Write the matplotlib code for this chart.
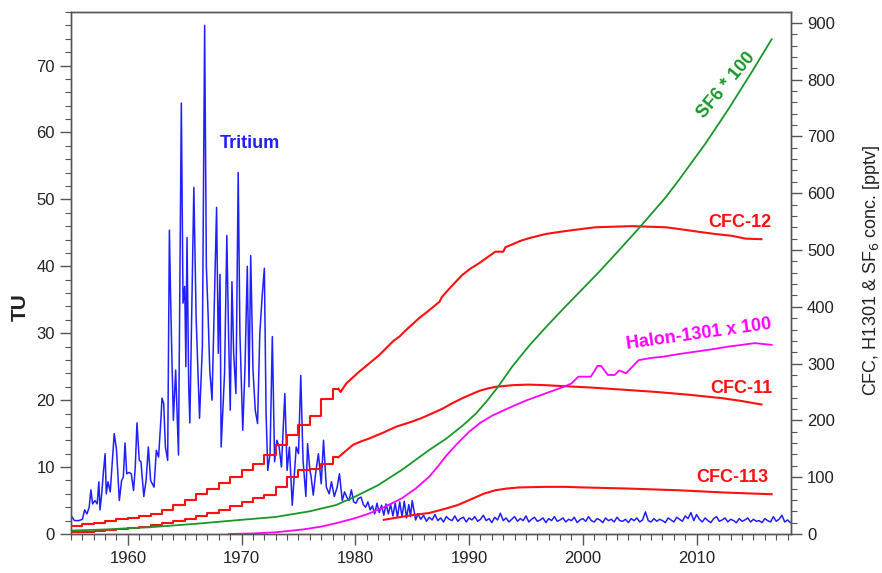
import numpy as np
import matplotlib.pyplot as plt
from matplotlib.ticker import MultipleLocator

plt.rcParams['font.family'] = ['Liberation Sans', 'DejaVu Sans']

# tritium in precipitation [TU]
tritium_years = [
    1955.0, 1955.3, 1955.7, 1956.0, 1956.2, 1956.4, 1956.6, 1956.75, 1956.9, 1957.1,
    1957.3, 1957.45, 1957.55, 1957.7, 1957.85, 1958.0, 1958.1, 1958.25, 1958.45, 1958.6,
    1958.8, 1959.0, 1959.25, 1959.45, 1959.6, 1959.75, 1959.9, 1960.1, 1960.3, 1960.5,
    1960.65, 1960.8, 1961.0, 1961.15, 1961.4, 1961.6, 1961.8, 1962.0, 1962.3, 1962.5,
    1962.7, 1962.9, 1963.0, 1963.15, 1963.3, 1963.5, 1963.65, 1963.75, 1963.85, 1964.0,
    1964.2, 1964.45, 1964.7, 1964.85, 1965.0, 1965.1, 1965.2, 1965.35, 1965.45, 1965.8,
    1966.0, 1966.15, 1966.3, 1966.55, 1966.75, 1966.9, 1967.05, 1967.2, 1967.4, 1967.8,
    1967.95, 1968.1, 1968.2, 1968.5, 1968.7, 1968.85, 1969.0, 1969.15, 1969.3, 1969.5,
    1969.7, 1969.85, 1970.1, 1970.3, 1970.5, 1970.65, 1970.8, 1971.0, 1971.2, 1971.4,
    1971.6, 1971.8, 1972.0, 1972.15, 1972.3, 1972.5, 1972.7, 1972.9, 1973.1, 1973.3,
    1973.5, 1973.8, 1974.0, 1974.2, 1974.45, 1974.6, 1974.8, 1975.0, 1975.2, 1975.4,
    1975.65, 1975.8, 1976.0, 1976.1, 1976.3, 1976.5, 1976.75, 1977.0, 1977.2, 1977.45,
    1977.7, 1977.9, 1978.15, 1978.4, 1978.6, 1978.85, 1979.05, 1979.25, 1979.45, 1979.65,
    1979.85, 1980.05, 1980.25, 1980.5, 1980.7, 1980.9, 1981.1, 1981.3, 1981.5, 1981.7,
    1981.9, 1982.1, 1982.3, 1982.5, 1982.7, 1982.9, 1983.1, 1983.3, 1983.5, 1983.7,
    1983.9, 1984.1, 1984.3, 1984.5, 1984.7, 1984.85, 1985.0, 1985.3, 1985.5,
]
tritium_tu = [
    2.8, 2.0, 2.0, 2.2, 3.6, 3.0, 4.0, 6.6, 4.5, 5.0,
    4.5, 7.8, 3.6, 6.0, 9.3, 12.0, 6.0, 7.8, 6.3, 10.0,
    15.0, 12.6, 5.0, 8.0, 8.5, 13.6, 9.0, 9.2, 9.0, 6.5,
    10.0, 16.6, 11.0, 10.8, 5.6, 8.0, 13.0, 8.0, 7.0, 12.5,
    11.5, 17.0, 20.3, 19.5, 13.0, 11.0, 45.4, 36.0, 28.0, 17.0,
    24.5, 11.8, 64.4, 34.5, 37.0, 25.0, 44.3, 22.0, 16.6, 51.8,
    32.4, 25.0, 17.3, 28.0, 76.0, 40.0, 33.0, 24.5, 20.0, 48.8,
    27.0, 38.8, 13.0, 24.0, 44.6, 30.0, 18.5, 37.7, 27.0, 21.0,
    54.0, 30.0, 15.5, 25.0, 40.0, 22.0, 41.6, 24.5, 18.5, 16.5,
    30.0, 35.4, 39.7, 18.0, 9.5, 12.0, 29.5, 10.8, 14.0, 13.0,
    10.0, 21.0, 9.5, 13.0, 4.3, 8.0, 13.0, 12.0, 23.7, 11.0,
    5.6, 13.5, 9.5, 8.7, 5.8, 9.0, 12.0, 7.5, 14.0, 7.0,
    6.0, 7.8, 5.6, 7.0, 9.0, 5.0, 6.3, 5.5, 5.0, 6.6,
    4.8, 4.6, 5.3, 5.5, 4.4, 4.0, 4.8, 3.6, 4.2, 3.0,
    4.6, 3.2, 4.3, 2.8, 4.5, 3.0, 4.4, 2.7, 4.6, 2.5,
    4.8, 2.6, 4.9, 2.4, 4.4, 2.6, 5.0, 2.1, 3.0,
]
# quarterly values from 1985.75 on
tritium_late = [
    2.2, 2.8, 1.9, 2.5, 2.1, 2.9, 2.0, 2.4, 1.8, 2.6,
    2.2, 2.0, 2.7, 1.9, 2.3, 2.5, 1.8, 2.4, 2.1, 2.6,
    1.9, 2.2, 2.8, 2.0, 2.3, 1.7, 2.5, 2.1, 3.1, 2.0,
    2.4, 1.8, 2.2, 2.6, 1.9, 2.3, 2.0, 2.7, 1.8, 2.2,
    2.5, 1.9, 2.1, 2.4, 1.7, 2.3, 2.0, 2.6, 1.9, 2.1,
    2.4, 1.8, 2.2, 2.0, 2.5, 1.7, 2.1, 2.3, 1.9, 2.6,
    2.0, 1.8, 2.3, 2.1, 1.7, 2.4, 2.0, 2.2, 1.8, 2.5,
    2.0, 1.9, 2.2, 1.7, 2.3, 2.0, 2.4, 1.8, 2.1, 3.3,
    2.0, 1.8, 2.3, 1.9, 2.2, 2.0, 1.7, 2.4, 2.1, 1.8,
    2.5, 2.2, 1.9, 2.7, 2.3, 3.2, 2.0, 2.9, 2.2, 1.8,
    2.4, 2.0, 1.7, 2.3, 2.6, 1.9, 2.1, 2.4, 1.8, 2.2,
    2.0, 1.7, 2.3, 1.9, 2.1, 2.4, 1.8, 2.2, 1.9, 2.0,
    1.7, 2.3, 2.0, 1.8, 2.6, 1.9, 2.2, 2.8, 1.8, 2.1,
    1.7,
]
tritium_late_years = 1985.75 + 0.25 * np.arange(len(tritium_late))

# CFC-12 [pptv]: annual steps, then continuous record
cfc12_step_years = [1955, 1956, 1957, 1958, 1959, 1960, 1961, 1962, 1963, 1964, 1965, 1966,
                    1967, 1968, 1969, 1970, 1971, 1972, 1973, 1974, 1975, 1976, 1977, 1978, 1978.5]
cfc12_step = [14, 17, 20, 23, 26, 29, 32, 35, 43, 51, 60, 70,
              79, 89, 100, 112, 124, 139, 157, 174, 192, 208, 237, 256, 256]
cfc12_years = [1978.5, 1978.7, 1979.2, 1979.8, 1980.35, 1981.2, 1982.1, 1982.7, 1983.3, 1983.9,
               1984.45, 1985.0, 1985.6, 1986.5, 1987.4, 1987.6, 1988.4, 1989.4, 1990.1, 1990.9,
               1991.6, 1992.3, 1993.0, 1993.2, 1993.7, 1994.5, 1995.3, 1996.7, 1998.0, 1999.1,
               2001.1, 2002.7, 2004.3, 2005.8, 2007.3, 2008.8, 2010.2, 2011.7, 2013.1, 2014.3,
               2015.7]
cfc12 = [256, 250, 265, 276, 286, 300, 315, 327, 339, 348,
         359, 369, 380, 394, 409, 417, 435, 456, 467, 477,
         487, 497, 497, 505, 509, 516, 521, 528, 532, 535,
         540, 541, 542, 541, 540, 536, 532, 528, 525, 520,
         519]

# CFC-11 [pptv]
cfc11_step_years = [1955, 1956, 1957, 1958, 1959, 1960, 1961, 1962, 1963, 1964, 1965, 1966,
                    1967, 1968, 1969, 1970, 1971, 1972, 1973, 1974, 1975, 1976, 1977, 1978, 1978.5]
cfc11_step = [3, 4, 5, 7, 9, 11, 13, 16, 19, 23, 27, 32,
              37, 43, 50, 57, 63, 69, 82, 100, 113, 115, 124, 135, 135]
cfc11_years = [1978.5, 1979.2, 1979.8, 1980.5, 1981.2, 1982.4, 1983.6, 1985.0, 1985.8, 1986.5,
               1987.7, 1988.5, 1989.4, 1990.2, 1990.9, 1991.6, 1992.3, 1993.8, 1995.2, 1996.7,
               1998.6, 2000.6, 2003.6, 2006.5, 2009.4, 2012.3, 2014.0, 2015.7]
cfc11 = [135, 147, 157, 163, 168, 178, 189, 198, 204, 210,
         221, 230, 239, 246, 252, 256, 259, 262, 263, 262,
         260, 258, 254, 250, 245, 239, 234, 228]

# CFC-113 [pptv]
cfc113_years = [1982.5, 1984.0, 1985.3, 1986.5, 1988.0, 1989.0, 1989.7, 1990.5, 1991.3, 1992.3,
                1993.3, 1994.4, 1996.7, 1998.5, 2000.0, 2004.0, 2008.4, 2012.5, 2016.6]
cfc113 = [25, 30, 34, 37, 45, 51, 57, 64, 71, 77,
          80, 82, 83, 83, 82, 80, 77, 73, 70]

# SF6 x 100 [pptv]
sf6_years = [1955, 1958, 1962, 1966, 1970, 1973, 1976, 1978.3, 1980.0, 1982.0,
             1984.1, 1986.5, 1988.0, 1989.5, 1990.6, 1991.6, 1992.5, 1993.8, 1995.3, 1996.7,
             1998.3, 2000.0, 2001.5, 2003.2, 2005.0, 2007.25, 2008.4, 2010.8, 2012.8, 2014.9,
             2016.6]
sf6 = [6, 8, 12, 18, 25, 30, 40, 51, 66, 86,
       113, 148, 168, 192, 212, 235, 258, 295, 332, 363,
       397, 432, 463, 500, 540, 592, 622, 688, 748, 815,
       871]

# Halon-1301 x 100 [pptv]
halon_years = [1968.9, 1971.0, 1973.0, 1975.4, 1977.0, 1978.3, 1980.0, 1981.2, 1982.5, 1984.1,
               1985.3, 1986.5, 1987.3, 1988.0, 1989.0, 1990.0, 1991.0, 1992.0, 1993.5, 1995.0,
               1996.1, 1997.2, 1998.3, 1999.0, 1999.6, 2000.7, 2001.3, 2001.6, 2002.2, 2002.8,
               2003.2, 2003.8, 2004.9, 2006.0, 2007.0, 2008.5, 2009.9, 2011.3, 2012.8, 2014.0,
               2015.1, 2016.6]
halon = [0, 1, 3, 8, 13, 19, 28, 36, 47, 63,
         80, 101, 120, 138, 160, 180, 196, 208, 222, 235,
         243, 251, 259, 265, 277, 277, 296, 296, 280, 280,
         288, 283, 306, 310, 312, 317, 321, 325, 330, 333,
         336, 333]

blue = '#1f1fff'
red = '#ff1010'
green = '#1a962a'
magenta = '#ff00ff'
spine_col = '#555555'

fig = plt.figure(figsize=(8.82, 5.73), dpi=100)
ax = fig.add_axes([71 / 882, 39 / 573, 720 / 882, 522 / 573])
ax2 = ax.twinx()

ax.plot(tritium_years, tritium_tu, color=blue, lw=1.1)
ax.plot(np.concatenate([[tritium_years[-1]], tritium_late_years]),
        [tritium_tu[-1]] + tritium_late, color=blue, lw=1.1)

ax2.plot(cfc12_step_years, cfc12_step, color=red, lw=1.5, drawstyle='steps-post')
ax2.plot(cfc12_years, cfc12, color=red, lw=1.5)
ax2.plot(cfc11_step_years, cfc11_step, color=red, lw=1.5, drawstyle='steps-post')
ax2.plot(cfc11_years, cfc11, color=red, lw=1.5)
ax2.plot(cfc113_years, cfc113, color=red, lw=1.5)
ax2.plot(sf6_years, sf6, color=green, lw=1.3)
ax2.plot(halon_years, halon, color=magenta, lw=1.3)

ax.set_xlim(1955, 2018.3)
ax.set_ylim(0, 78)
ax2.set_ylim(0, 919)

ax.xaxis.set_major_locator(MultipleLocator(10))
ax.xaxis.set_minor_locator(MultipleLocator(1))
ax.yaxis.set_major_locator(MultipleLocator(10))
ax.yaxis.set_minor_locator(MultipleLocator(2))
ax2.yaxis.set_major_locator(MultipleLocator(100))
ax2.yaxis.set_minor_locator(MultipleLocator(20))

for a in (ax, ax2):
    for s in a.spines.values():
        s.set_color(spine_col)
        s.set_linewidth(1.0)
    a.tick_params(which='major', length=8, width=1.0, color=spine_col,
                  labelsize=12, labelcolor='#222222')
    a.tick_params(which='minor', length=4, width=0.8, color=spine_col)
ax.tick_params(axis='x', pad=4)

fig.text(20 / 882, 1 - 307 / 573, 'TU', rotation=90, ha='center', va='center',
         fontsize=15, fontweight='bold', color='#222222')
fig.text(872 / 882, 1 - 270 / 573, 'CFC, H1301 & SF$_6$ conc. [pptv]', rotation=90,
         ha='center', va='center', fontsize=13, color='#222222')

ax.text(1970.7, 58.4, 'Tritium', color=blue, fontsize=13, fontweight='bold',
        ha='center', va='center')
ax2.text(2013.8, 549, 'CFC-12', color=red, fontsize=13, fontweight='bold',
         ha='center', va='center')
ax2.text(2013.9, 257, 'CFC-11', color=red, fontsize=13, fontweight='bold',
         ha='center', va='center')
ax2.text(2013.1, 100, 'CFC-113', color=red, fontsize=13, fontweight='bold',
         ha='center', va='center')
ax2.text(2010.2, 352, 'Halon-1301 x 100', color=magenta, fontsize=13, fontweight='bold',
         ha='center', va='center', rotation=8)
ax2.text(2012.6, 790, 'SF6 * 100', color=green, fontsize=13, fontweight='bold',
         ha='center', va='center', rotation=50)

fig.savefig('out.png', dpi=100)
